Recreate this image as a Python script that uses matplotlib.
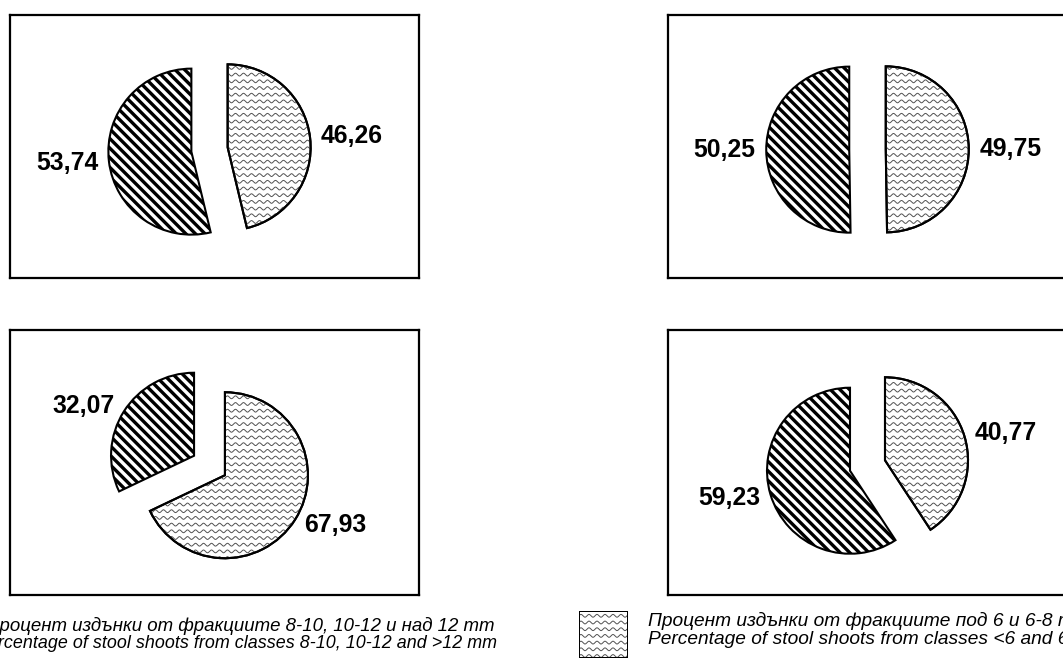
import numpy as np
import matplotlib
matplotlib.use("Agg")
import matplotlib.pyplot as plt
from matplotlib.patches import PathPatch, Rectangle

# values (%) for each panel: first = fractions <6 and 6-8 mm (wavy), second = 8-10, 10-12, >12 mm (hatched)
panel_tl = [46.26, 53.74]
panel_tr = [49.75, 50.25]
panel_bl = [67.93, 32.07]
panel_br = [40.77, 59.23]

legend_small_bg = "Процент издънки от фракциите под 6 и 6-8 mm"
legend_small_en = "Percentage of stool shoots from classes <6 and 6-8 mm"
legend_big_bg = "Процент издънки от фракциите 8-10, 10-12 и над 12 mm"
legend_big_en = "Percentage of stool shoots from classes 8-10, 10-12 and >12 mm"

FIG_W, FIG_H, DPI = 1063, 659, 115
plt.rcParams["font.family"] = ["Liberation Sans", "DejaVu Sans"]
plt.rcParams["hatch.linewidth"] = 2.1

R_PX = 83  # pie radius in pixels


def px_axes(fig, x, y, w, h):
    return fig.add_axes([x / FIG_W, 1 - (y + h) / FIG_H, w / FIG_W, h / FIG_H])


def wavy_pattern(ax, clip, x0, x1, y0, y1, unit):
    # wavy texture drawn as thin sine lines clipped to a patch
    step, wave, amp = 6.7 * unit, 8 * unit, 1.4 * unit
    xs = np.linspace(x0, x1, 1200)
    for yb in np.arange(y0, y1, step):
        ln, = ax.plot(xs, yb + amp * np.sin(2 * np.pi * xs / wave),
                      color="#505050", lw=0.6, zorder=2)
        ln.set_clip_path(clip)


def fmt(v):
    return f"{v:.2f}".replace(".", ",")


def panel(fig, box, values):
    x, y, w, h = box
    ax = px_axes(fig, x, y, w, h)
    u = 1 / R_PX
    cx, cy = 5 * u, 3 * u  # box centre relative to pie centre
    wedges, texts = ax.pie(values, labels=[fmt(v) for v in values], startangle=90,
                           counterclock=False, explode=[0.22, 0.22], labeldistance=1.13,
                           frame=True,
                           wedgeprops=dict(facecolor="white", edgecolor="black", linewidth=1.3),
                           textprops=dict(fontsize=15.5, fontweight="bold", color="black"))
    wedges[1].set_hatch("\\\\\\\\")
    wavy_pattern(ax, wedges[0], -1.6, 1.6, -1.6, 1.6, u)
    ax.add_patch(PathPatch(wedges[0].get_path(), facecolor="none", edgecolor="black",
                           linewidth=1.3, zorder=3, transform=ax.transData))
    ax.set_xlim(cx - w / 2 * u, cx + w / 2 * u)
    ax.set_ylim(cy - h / 2 * u, cy + h / 2 * u)
    ax.set_aspect("auto")
    ax.set_xticks([])
    ax.set_yticks([])
    for s in ax.spines.values():
        s.set_linewidth(1.4)
        s.set_color("black")


def swatch(fig, box, kind):
    x, y, w, h = box
    ax = px_axes(fig, x, y, w, h)
    ax.set_xlim(0, w)
    ax.set_ylim(0, h)
    ax.axis("off")
    rect = Rectangle((0, 0), w, h, facecolor="white", edgecolor="black", linewidth=1.2,
                     zorder=1)
    ax.add_patch(rect)
    if kind == "hatch":
        rect.set_hatch("\\\\\\\\")
    else:
        wavy_pattern(ax, rect, 0, w, 2, h, 1)
        ax.add_patch(Rectangle((0, 0), w, h, facecolor="none", edgecolor="black",
                               linewidth=1.2, zorder=3))


def main():
    fig = plt.figure(figsize=(FIG_W / DPI, FIG_H / DPI), dpi=DPI)

    panel(fig, (10, 15, 409, 263), panel_tl)
    panel(fig, (668, 15, 409, 263), panel_tr)
    panel(fig, (10, 330, 409, 265), panel_bl)
    panel(fig, (668, 330, 409, 265), panel_br)

    swatch(fig, (-79, 611, 49, 47), "hatch")
    swatch(fig, (579, 611, 49, 47), "wavy")

    # legend lines run past the page edges, as in the source figure
    kw = dict(style="italic", va="center", color="black")
    fig.text(495 / FIG_W, 1 - 626 / FIG_H, legend_big_bg, ha="right", fontsize=11.65, **kw)
    fig.text(497 / FIG_W, 1 - 643 / FIG_H, legend_big_en, ha="right", fontsize=11.2, **kw)
    fig.text(648 / FIG_W, 1 - 621 / FIG_H, legend_small_bg, ha="left", fontsize=12.0, **kw)
    fig.text(648 / FIG_W, 1 - 639 / FIG_H, legend_small_en, ha="left", fontsize=12.0, **kw)

    fig.savefig("out.png", dpi=DPI)
    plt.close(fig)


if __name__ == "__main__":
    main()
